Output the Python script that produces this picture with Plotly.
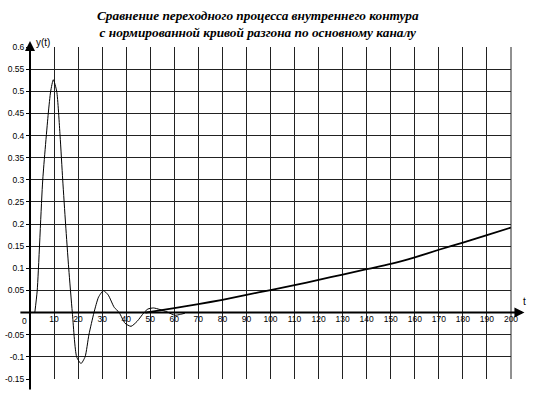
import plotly.graph_objects as go

# Transient process of the inner loop
t1 = [2, 3, 5.3, 7.6, 8.6, 9.7, 11.1, 12.5, 13.6, 14.8, 16.1, 17.6, 19.4, 21.2, 22.9, 24.5, 26.6,
      28.5, 30.5, 32.5, 35, 37.1, 39.5, 42, 44.5, 47.4, 49, 51.3, 54, 57, 60.3, 62.5, 64.4]
y1 = [0, 0.05, 0.3, 0.45, 0.5, 0.526, 0.5, 0.4, 0.3, 0.2, 0.1, 0, -0.1, -0.115, -0.1, -0.05, 0,
      0.035, 0.0495, 0.04, 0.012, 0, -0.024, -0.031, -0.02, 0, 0.008, 0.0105, 0.007, 0.0015, -0.006, -0.004, -0.0015]

# Normalized acceleration curve (main channel)
t2 = [48, 60, 70, 80, 90, 100, 110, 120, 130, 140, 150, 160, 170, 180, 190, 200]
y2 = [0, 0.01, 0.019, 0.029, 0.04, 0.051, 0.062, 0.074, 0.086, 0.098, 0.11, 0.125, 0.142, 0.158, 0.175, 0.192]

x_ticks = list(range(10, 201, 10))
y_ticks = [0.6, 0.55, 0.5, 0.45, 0.4, 0.35, 0.3, 0.25, 0.2, 0.15, 0.1, 0.05, -0.05, -0.1, -0.15]
y_labels = ["0.6", "0.55", "0.5", "0.45", "0.4", "0.35", "0.3", "0.25", "0.2", "0.15", "0.1", "0.05",
            "-0.05", "-0.1", "-0.15"]

title_lines = ["Сравнение переходного процесса внутреннего контура",
               "с нормированной кривой разгона по основному каналу"]

W, H = 536, 402
PLOT_L, PLOT_R = 30, 536 - 511
PLOT_T, PLOT_B = 47, 402 - 379.5
pw = W - PLOT_L - PLOT_R
ph = H - PLOT_T - PLOT_B

fig = go.Figure()
fig.add_trace(go.Scatter(x=t1, y=y1, mode="lines", line=dict(color="black", width=1, shape="spline", smoothing=0.6),
                         showlegend=False, hoverinfo="skip"))
fig.add_trace(go.Scatter(x=t2, y=y2, xaxis="x2", mode="lines",
                         line=dict(color="black", width=1.8, shape="spline", smoothing=0.5),
                         showlegend=False, hoverinfo="skip"))

grid_col = "#222222"
fig.update_layout(
    width=W, height=H,
    margin=dict(l=PLOT_L, r=PLOT_R, t=PLOT_T, b=PLOT_B, autoexpand=False, pad=0),
    paper_bgcolor="white", plot_bgcolor="white",
    font=dict(family="Liberation Sans, Arial, sans-serif", size=8, color="black"),
    # grid-only x axis at the bottom
    xaxis=dict(range=[0, 200], tickvals=x_ticks, showticklabels=False,
               showgrid=True, gridcolor=grid_col, gridwidth=1, zeroline=False, showline=False,
               ticks="", automargin=False, fixedrange=True),
    # labelled x axis placed on y = 0
    xaxis2=dict(range=[0, 200], tickvals=x_ticks, ticktext=[str(v) for v in x_ticks],
                overlaying="x", matches="x", anchor="free", position=0.2, side="bottom",
                showgrid=False, zeroline=False, showline=False, ticks="", tickfont=dict(size=8.5),
                automargin=False, fixedrange=True),
    yaxis=dict(range=[-0.15, 0.6], tickvals=y_ticks, ticktext=y_labels,
               showgrid=True, gridcolor=grid_col, gridwidth=1, zeroline=False, showline=False,
               ticks="outside", ticklen=3, tickcolor="black", tickfont=dict(size=8.5),
               automargin=False, fixedrange=True),
    shapes=[
        dict(type="line", xref="paper", yref="paper", x0=1, x1=1, y0=0, y1=1, line=dict(color=grid_col, width=1)),
        dict(type="line", xref="paper", yref="paper", x0=0, x1=0, y0=-0.032, y1=1.0, line=dict(color="black", width=2)),
        dict(type="line", xref="paper", yref="paper", x0=-0.02, x1=1.022, y0=0.2, y1=0.2, line=dict(color="black", width=2)),
    ],
    annotations=[
        dict(xref="paper", yref="paper", x=0, y=1.018, ax=0, ay=8, text="", showarrow=True,
             arrowhead=2, arrowsize=1, arrowwidth=2, arrowcolor="black"),
        dict(xref="paper", yref="paper", x=1.028, y=0.2, ax=-8, ay=0, text="", showarrow=True,
             arrowhead=2, arrowsize=1, arrowwidth=2, arrowcolor="black"),
        dict(xref="paper", yref="paper", x=0.008, y=1.0, text="y(t)", showarrow=False,
             xanchor="left", yanchor="bottom", yshift=-3, font=dict(size=10)),
        dict(xref="paper", yref="paper", x=1.02, y=0.21, text="t", showarrow=False,
             xanchor="left", yanchor="bottom", font=dict(size=10)),
        dict(xref="paper", yref="paper", x=-0.003, y=0.195, text="0", showarrow=False,
             xanchor="right", yanchor="top", font=dict(size=8.5)),
        dict(xref="paper", yref="paper", x=(258 - PLOT_L) / pw, y=1 + (PLOT_T - 6) / ph,
             text="<b><i>" + "<br>".join(title_lines) + "</i></b>",
             showarrow=False, xanchor="center", yanchor="top",
             font=dict(family="Liberation Serif, Times New Roman, serif", size=13.3, color="black")),
    ],
)

fig.write_html("out.html", config={"displayModeBar": False},
               post_script="document.body.style.margin='0';document.body.style.overflow='hidden';")
